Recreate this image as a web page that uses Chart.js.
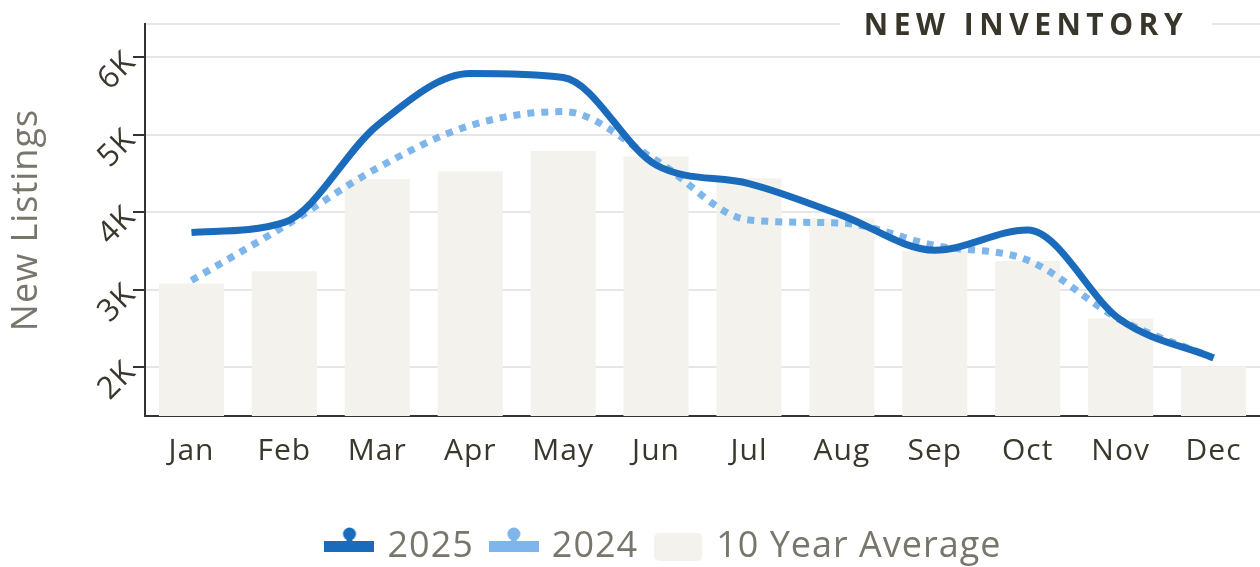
<!DOCTYPE html>
<html>
<head>
<meta charset="utf-8">
<script src="https://cdn.jsdelivr.net/npm/chart.js@4/dist/chart.umd.min.js"></script>
<style>
  html, body { margin: 0; padding: 0; background: #fff; }
  #wrap { position: relative; width: 1260px; height: 567px; }
  #titulo {
    position: absolute; top: 7px; left: 840px; width: 372px; height: 34px;
    background: #fff; text-align: center; line-height: 34px;
    font-family: "Open Sans", sans-serif; font-weight: 700; font-size: 30px;
    letter-spacing: 5.5px; color: #38352a;
  }
</style>
</head>
<body>
<div id="wrap">
  <canvas id="grafica" width="1260" height="567"></canvas>
  <div id="titulo">NEW INVENTORY</div>
</div>
<script>
var meses = ['Jan', 'Feb', 'Mar', 'Apr', 'May', 'Jun', 'Jul', 'Aug', 'Sep', 'Oct', 'Nov', 'Dec'];
var datos2025 = [3740, 3870, 5120, 5790, 5740, 4610, 4370, 3960, 3510, 3770, 2610, 2120];
var datos2024 = [3120, 3820, 4570, 5120, 5300, 4670, 3900, 3860, 3570, 3380, 2610, 2120];
var promedio10 = [3080, 3240, 4430, 4530, 4790, 4720, 4440, 3920, 3500, 3370, 2630, 2010];
var ticksY = [2000, 3000, 4000, 5000, 6000];
var ejeMin = 1370;
var ejeMax = 6430;

var fuente = '"Open Sans", sans-serif';

// iconos de la leyenda: linea con un punto encima
function iconoLinea(color) {
    var c = document.createElement('canvas');
    c.width = 50; c.height = 40;
    var ctx = c.getContext('2d');
    ctx.fillStyle = color;
    ctx.fillRect(0, 14, 50, 11);
    ctx.beginPath();
    ctx.arc(25, 7, 6.5, 0, Math.PI * 2);
    ctx.fill();
    ctx.fillRect(22, 8, 6, 8);
    return c;
}
function iconoBarra(color) {
    var c = document.createElement('canvas');
    c.width = 48; c.height = 28;
    var ctx = c.getContext('2d');
    ctx.fillStyle = color;
    ctx.beginPath();
    ctx.roundRect(0, 0, 48, 28, 5);
    ctx.fill();
    return c;
}

// la leyenda queda un poco mas abajo y a la derecha
var ajusteLeyenda = {
    id: 'ajusteLeyenda',
    beforeInit: function (chart) {
        var leyenda = chart.legend;
        var fitOriginal = leyenda.fit;
        var drawOriginal = leyenda.draw;
        leyenda.fit = function () {
            fitOriginal.call(this);
            this.height -= 8;
        };
        leyenda.draw = function () {
            this.ctx.save();
            this.ctx.translate(24, 0);
            drawOriginal.call(this);
            this.ctx.restore();
        };
    },
    beforeDraw: function (chart) {
        chart.ctx.letterSpacing = '1px';
    }
};

var ctx = document.getElementById('grafica').getContext('2d');
var miGrafica = new Chart(ctx, {
    type: 'bar',
    data: {
        labels: meses,
        datasets: [{
            type: 'line',
            label: '2025',
            data: datos2025,
            borderColor: '#1b6bbd',
            backgroundColor: '#1b6bbd',
            borderWidth: 7,
            pointRadius: 0,
            cubicInterpolationMode: 'monotone',
            pointStyle: iconoLinea('#1b6bbd'),
            order: 1
        }, {
            type: 'line',
            label: '2024',
            data: datos2024,
            borderColor: '#7eb5ea',
            backgroundColor: '#7eb5ea',
            borderWidth: 7,
            borderDash: [7, 7],
            pointRadius: 0,
            cubicInterpolationMode: 'monotone',
            pointStyle: iconoLinea('#7eb5ea'),
            order: 2
        }, {
            label: '10 Year Average',
            data: promedio10,
            backgroundColor: '#f3f2ec',
            categoryPercentage: 0.7,
            barPercentage: 1,
            pointStyle: iconoBarra('#f3f2ec'),
            order: 3
        }]
    },
    plugins: [ajusteLeyenda],
    options: {
        responsive: false,
        animation: false,
        layout: { padding: { top: 24, right: 0, left: 0, bottom: 0 } },
        plugins: {
            tooltip: { enabled: false },
            legend: {
                position: 'bottom',
                labels: {
                    usePointStyle: true,
                    pointStyleWidth: 40,
                    boxHeight: 30,
                    padding: 20,
                    color: '#78756b',
                    font: { family: fuente, size: 36 }
                }
            }
        },
        scales: {
            x: {
                grid: { display: false },
                border: { color: '#333', width: 2 },
                ticks: {
                    color: '#3a372c',
                    font: { family: fuente, size: 30 },
                    padding: 9,
                    maxRotation: 0
                },
                afterFit: function (eje) { eje.height = 93; }
            },
            y: {
                min: ejeMin,
                max: ejeMax,
                border: { color: '#333', width: 2 },
                grid: {
                    color: '#e6e6e6',
                    lineWidth: 2,
                    tickLength: 12,
                    tickColor: function (c) {
                        return c.tick && ticksY.indexOf(c.tick.value) > -1 ? '#333' : 'rgba(0,0,0,0)';
                    }
                },
                afterBuildTicks: function (eje) {
                    eje.ticks = [ejeMin].concat(ticksY, [ejeMax]).map(function (v) { return { value: v }; });
                },
                afterFit: function (eje) { eje.width = 145; },
                ticks: {
                    minRotation: 45,
                    maxRotation: 45,
                    padding: 2,
                    color: '#3a372c',
                    font: { family: fuente, size: 31 },
                    callback: function (v) {
                        return ticksY.indexOf(v) > -1 ? (v / 1000) + 'K' : '';
                    }
                },
                title: {
                    display: true,
                    text: 'New Listings',
                    color: '#78756b',
                    font: { family: fuente, size: 36 },
                    padding: { top: 5, bottom: 0 }
                }
            }
        }
    }
});
</script>
</body>
</html>
